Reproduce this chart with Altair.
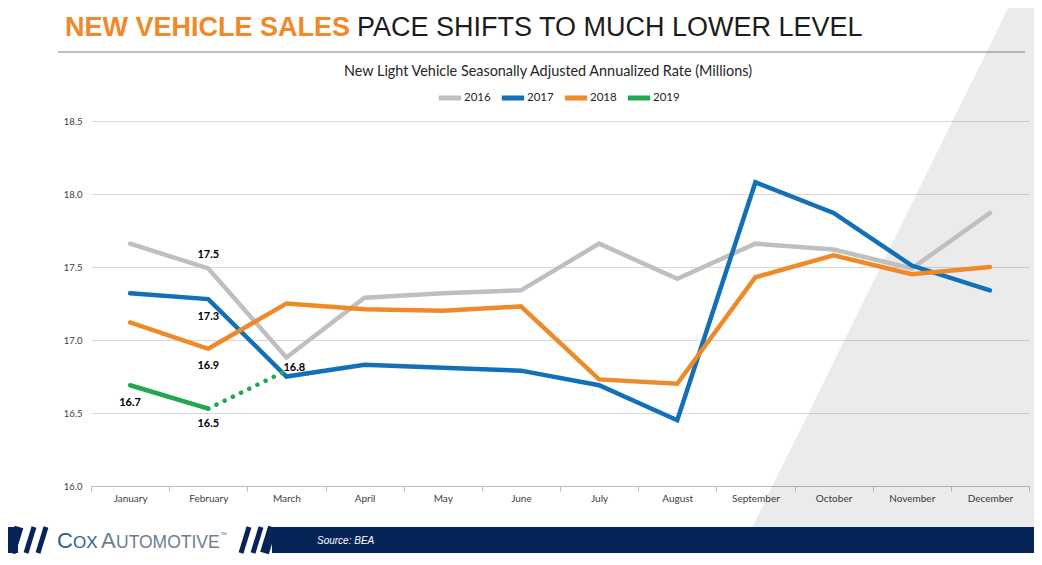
import altair as alt
import pandas as pd

# ---------------- data ----------------
months = ["January", "February", "March", "April", "May", "June", "July",
          "August", "September", "October", "November", "December"]
s2016 = [17.66, 17.49, 16.88, 17.29, 17.32, 17.34, 17.66, 17.42, 17.66, 17.62, 17.49, 17.87]
s2017 = [17.32, 17.28, 16.75, 16.83, 16.81, 16.79, 16.69, 16.45, 18.08, 17.87, 17.51, 17.34]
s2018 = [17.12, 16.94, 17.25, 17.21, 17.20, 17.23, 16.73, 16.70, 17.43, 17.58, 17.45, 17.50]
s2019 = [16.69, 16.53]
proj_months = ["February", "March"]
proj_2019 = [16.53, 16.79]
series_names = ["2016", "2017", "2018", "2019"]
series_colors = ["#bfbfbf", "#1170b9", "#ef8a2a", "#1fa84f"]
label_months = ["February", "February", "February", "March", "January", "February"]
label_anchor = [17.49, 17.28, 16.94, 16.79, 16.69, 16.53]
label_text = ["17.5", "17.3", "16.9", "16.8", "16.7", "16.5"]
y_ticks = [16.0, 16.5, 17.0, 17.5, 18.0, 18.5]

rows = []
for name, vals in zip(series_names, [s2016, s2017, s2018, s2019]):
    for m, v in zip(months, vals):
        rows.append({"month": m, "series": name, "value": v})
df = pd.DataFrame(rows)
proj = pd.DataFrame({"month": proj_months, "value": proj_2019})
one = pd.DataFrame({"k": [0]})

# plot origin on the page
OX, OY = 91, 121
W, H = 938, 365

xscale = alt.Scale(type="band", domain=months, paddingInner=0, paddingOuter=0)
yscale = alt.Scale(domain=[16, 18.5], nice=False, zero=False)


def rule(x1, y1, x2, y2, color, w, opacity=1.0):
    return alt.Chart(one).mark_rule(color=color, strokeWidth=w, opacity=opacity).encode(
        x=alt.value(x1 - OX), y=alt.value(y1 - OY),
        x2=alt.value(x2 - OX), y2=alt.value(y2 - OY))


def rect(x1, y1, x2, y2, color):
    return alt.Chart(one).mark_rect(color=color).encode(
        x=alt.value(x1 - OX), y=alt.value(y1 - OY),
        x2=alt.value(x2 - OX), y2=alt.value(y2 - OY))


def text(s, x, y, size, color, font="Liberation Sans", weight="normal",
         align="left", baseline="alphabetic", style="normal"):
    return alt.Chart(one).mark_text(
        text=s, fontSize=size, color=color, font=font, fontWeight=weight,
        align=align, baseline=baseline, fontStyle=style).encode(
        x=alt.value(x - OX), y=alt.value(y - OY))


navy = "#062457"
deco = [
    # grey diagonal wedge on the right
    rule(1474, -145, 882, 1055, "#000000", 700, 0.08),
    rect(0, 553, 1040, 570, "#ffffff"),
    # bottom band
    rect(272, 527, 1040, 553, navy),
    rule(272.5, 527, 264.5, 553, navy, 9),
    rect(0, 527, 18, 553, navy),
    rule(19, 527, 11, 553, navy, 9),
    rule(34, 527, 26, 553, navy, 5),
    rule(46, 527, 38, 553, navy, 5),
    rule(249, 527, 241, 553, navy, 5),
    rule(261, 527, 253, 553, navy, 5),
    text("C", 57, 548, 22, "#2e5f8e"),
    text("OX", 73, 548, 17, "#2e5f8e"),
    text("A", 101, 548, 22, "#6d7d8f"),
    text("UTOMOTIVE", 116, 548, 17.5, "#6d7d8f"),
    text("™", 220, 537, 7, "#6d7d8f"),
    text("Source: BEA", 317, 544, 10, "#ffffff", style="italic"),
    # slide title
    text("NEW VEHICLE SALES", 65, 36, 27, "#f0892a", weight="bold"),
    text("PACE SHIFTS TO MUCH LOWER LEVEL", 357, 36, 27, "#1c1c1c"),
    rule(58, 52, 1025, 52, "#7f7f7f", 1.2),
    # chart title
    text("New Light Vehicle Seasonally Adjusted Annualized Rate (Millions)",
         548, 72, 14.4, "#262626", font="Lato", align="center", baseline="middle"),
]

lines = alt.Chart(df).mark_line(strokeWidth=4.5, strokeCap="round").encode(
    x=alt.X("month:N", sort=months, scale=xscale, bandPosition=0.5,
            axis=alt.Axis(title=None, labelAngle=0, grid=False, domainColor="#bfbfbf",
                          tickColor="#bfbfbf", tickSize=5, tickBand="extent",
                          labelPadding=2, labelFont="Lato", labelFontSize=10,
                          labelColor="#404040")),
    y=alt.Y("value:Q", scale=yscale,
            axis=alt.Axis(title=None, values=y_ticks, format=".1f", domain=False,
                          ticks=False, labelPadding=9, gridColor="#d9d9d9",
                          labelFont="Lato", labelFontSize=9.5, labelColor="#404040")),
    color=alt.Color("series:N", scale=alt.Scale(domain=series_names, range=series_colors),
                    legend=alt.Legend(orient="none", legendX=345, legendY=-37,
                                      direction="horizontal", title=None,
                                      symbolType="stroke", symbolStrokeWidth=5,
                                      symbolSize=500, labelFont="Lato",
                                      labelFontSize=11.5, labelColor="#262626",
                                      columnPadding=0, labelOffset=0)),
    order=alt.Order("series:N"),
)

dotted = alt.Chart(proj).mark_line(strokeWidth=4.5, strokeCap="round",
                                   strokeDash=[0.1, 9], color="#1fa84f").encode(
    x=alt.X("month:N", sort=months, scale=xscale, bandPosition=0.5),
    y=alt.Y("value:Q", scale=yscale),
)

label_style = [(0, -13, "center"), (0, 18, "center"), (0, 17, "center"),
               (-3, -3, "left"), (0, 18, "center"), (0, 15, "center")]
labels = []
for m, a, t, (dx, dy, al) in zip(label_months, label_anchor, label_text, label_style):
    ldf = pd.DataFrame({"month": [m], "value": [a], "txt": [t]})
    labels.append(
        alt.Chart(ldf).mark_text(font="Lato", fontWeight="bold", fontSize=11,
                                 color="#000000", dx=dx, dy=dy, align=al,
                                 baseline="middle").encode(
            x=alt.X("month:N", sort=months, scale=xscale, bandPosition=0.5),
            y=alt.Y("value:Q", scale=yscale),
            text="txt:N"))

chart = alt.layer(*deco, lines, dotted, *labels).properties(
    width=W, height=H,
    autosize=alt.AutoSizeParams(type="none"),
    padding={"left": 83, "top": 113, "right": 5, "bottom": 71},
    background="#ffffff",
).configure_view(stroke=None)

chart.save("out.html", embed_options={"renderer": "svg", "actions": False})
